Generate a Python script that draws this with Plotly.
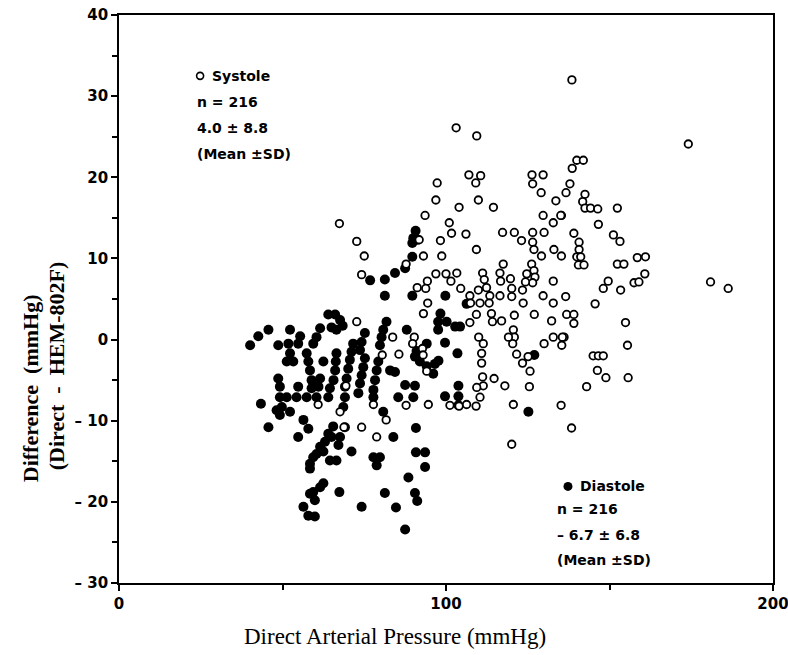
import plotly.graph_objects as go

# ---- Data ----
systole_x = [138.5, 174.1, 140.0, 142.0, 138.6, 137.9, 136.7, 142.5, 141.8, 142.5, 144.2, 146.4, 152.4, 135.3,
             146.6, 139.1, 151.2, 153.2, 140.7, 140.7, 135.3, 140.0, 141.2, 140.5, 142.2, 158.5, 161.0, 152.4,
             154.4, 149.6, 148.1, 153.4, 157.5, 159.0, 160.8, 180.9, 186.3, 136.6, 145.6, 136.9, 139.1, 139.1,
             154.9, 136.1, 135.4, 155.5, 145.0, 146.6, 148.1, 146.3, 148.9, 155.7, 143.0,
             103.1, 109.4,
             97.3, 107.0, 110.6, 109.1, 126.3, 129.7, 126.5, 96.9, 109.9, 104.0, 114.5, 129.1, 133.6, 93.6,
             101.0, 129.7, 135.1, 132.8, 101.7, 106.1, 117.3, 120.9, 123.1, 126.5, 126.5, 126.9, 130.0, 98.3,
             109.3, 133.0, 129.2, 93.1, 98.7, 87.8, 91.8, 117.5, 126.2, 126.9, 124.7, 127.2, 126.5, 124.3,
             96.9, 100.0, 103.3, 101.5, 111.2, 111.7, 116.5, 116.7, 119.7, 132.8, 94.3, 91.2, 93.8, 104.5,
             107.3, 109.9, 112.4, 113.4, 120.1, 120.1, 123.4, 129.7, 132.8, 116.5, 107.5, 110.4, 113.2, 94.4,
             123.6, 93.1, 109.3, 113.9, 120.9, 127.0, 114.2, 117.0, 132.3, 107.3, 120.6, 120.9, 90.3, 83.7,
             89.8, 110.0, 111.4, 132.8, 135.6, 130.0, 120.4,
             92.8, 93.0, 85.6, 94.1, 110.9, 110.9, 111.2, 111.4, 109.4, 110.4, 101.2, 104.0, 106.3, 109.2,
             87.8, 94.6, 114.7, 118.0, 119.1, 121.6, 123.4, 125.1, 125.7, 125.5, 120.6, 135.2, 138.4, 120.1,
             81.7,
             72.7, 80.5, 69.4, 60.9, 67.6, 77.8, 68.8, 74.2, 78.8,
             67.4, 72.7, 75.0, 74.2]
systole_y = [32.0, 24.1, 22.1, 22.1, 21.1, 19.2, 18.1, 17.9, 17.0, 16.2, 16.2, 16.1, 16.2, 15.3,
             14.2, 13.1, 12.9, 12.1, 12.0, 11.1, 10.3, 10.2, 10.2, 9.2, 9.2, 10.1, 10.2, 9.3,
             9.3, 7.2, 6.3, 6.1, 7.0, 7.1, 8.1, 7.1, 6.3, 5.3, 4.4, 3.1, 3.1, 2.0,
             2.1, 0.3, -0.7, -0.7, -2.0, -2.0, -2.0, -3.8, -4.7, -4.7, -5.8,
             26.1, 25.1,
             19.3, 20.3, 20.2, 19.3, 20.3, 20.3, 19.2, 17.2, 17.2, 16.3, 16.3, 18.1, 17.1, 15.3,
             14.4, 15.3, 15.3, 14.4, 13.1, 13.0, 13.2, 13.2, 12.2, 13.2, 12.0, 11.1, 13.2, 12.2,
             11.1, 11.1, 10.3, 10.3, 10.3, 9.3, 12.3, 9.3, 9.3, 8.5, 8.1, 7.7, 7.0, 7.1,
             8.1, 8.1, 8.2, 7.2, 8.2, 7.4, 8.2, 7.2, 7.5, 7.2, 7.2, 6.4, 6.3, 6.3,
             5.4, 6.1, 6.4, 5.4, 6.3, 5.3, 6.1, 5.4, 4.5, 5.4, 4.5, 4.5, 4.5, 4.5,
             4.5, 3.2, 3.1, 3.2, 3.0, 3.1, 2.2, 2.3, 2.3, 2.1, 1.2, 0.3, 0.3, 0.3,
             -0.5, 0.3, -0.5, 0.3, 0.3, -0.5, -0.5,
             -1.1, -1.9, -1.8, -3.9, -1.7, -2.9, -4.6, -5.7, -5.9, -7.1, -8.1, -8.2, -8.0, -8.2,
             -8.1, -8.0, -4.8, -5.7, 0.3, -1.8, -2.9, -2.1, -3.9, -5.8, -8.0, -8.1, -10.9, -12.9,
             -9.9,
             2.2, -1.9, -5.7, -8.0, -8.9, -8.0, -10.8, -10.8, -12.0,
             14.3, 12.1, 10.3, 8.0]

diastole_x = [90.7, 90.0, 89.7, 91.3, 89.7, 87.5, 84.4, 81.3, 81.3, 89.7, 99.8, 98.3, 97.6, 100.2,
              102.8, 104.3, 106.3, 88.0, 94.1, 99.7,
              91.0, 90.5, 92.0, 94.1, 96.1, 97.7, 96.6, 103.5, 97.6, 82.9, 84.4, 87.5, 90.5, 85.4,
              90.0, 99.7, 103.8, 103.8, 103.8, 127.0, 125.2, 80.8, 83.9, 90.8, 90.8, 93.6, 93.6, 88.5,
              81.3, 90.5, 91.2, 84.7, 87.5,
              76.8,
              64.0, 66.1, 67.6, 68.4, 66.5, 65.0,
              81.8, 80.8, 80.3, 79.8, 79.3, 78.8, 78.3, 77.8, 77.8,
              75.2, 74.2, 73.7, 75.2, 74.7, 74.2, 73.7, 73.2,
              71.6, 71.1, 70.6, 70.1, 69.6, 69.1, 69.1, 68.6,
              66.5, 66.3, 66.1, 65.6, 64.5, 64.0,
              61.5, 60.4, 59.4, 62.5, 61.5, 61.0, 59.4,
              57.4, 57.9, 58.4, 58.9, 58.9,
              52.3, 55.4, 54.8, 51.8, 48.7, 52.3, 51.3, 53.3,
              45.7, 42.6, 40.1,
              48.7, 49.2, 49.2, 49.8, 48.2, 49.2,
              51.3, 54.3, 57.4, 60.4, 54.8,
              43.4, 45.7, 52.3,
              56.4, 57.9, 54.8,
              65.5, 65.0, 67.6,
              64.0, 63.0, 61.5, 60.4, 59.4, 58.4, 58.4, 62.5, 64.5, 66.5, 67.1,
              69.1, 71.1,
              77.8, 79.8, 78.8,
              62.5, 61.5, 59.4, 59.9, 58.4,
              56.4, 57.9, 59.9,
              67.4, 74.2]
diastole_y = [13.4, 12.5, 11.9, 12.3, 10.2, 8.8, 8.2, 7.4, 5.4, 5.4, 5.4, 3.2, 2.2, 2.2,
              1.6, 1.6, 4.4, 1.2, -0.5, -0.4,
              -1.4, -2.1, -2.7, -3.3, -4.2, -2.6, -3.0, -1.7, 1.2, -3.8, -4.0, -5.6, -5.7, -7.1,
              -7.1, -7.0, -5.7, -7.0, -8.1, -1.9, -8.9, -8.9, -12.0, -10.9, -13.9, -13.9, -15.7, -17.0,
              -18.9, -18.9, -19.9, -20.7, -23.4,
              7.3,
              3.1, 3.1, 2.4, 1.7, 1.2, 1.5,
              2.2, 1.2, 0.3, -0.7, -2.7, -3.8, -5.0, -6.2, -7.1,
              0.8, -0.3, -1.3, -2.3, -3.4, -4.4, -5.4, -6.6,
              -0.5, -1.5, -2.5, -3.6, -4.8, -5.8, -7.1, -8.3,
              -1.7, -2.7, -3.8, -5.0, -6.0, -7.1,
              1.4, 0.3, -0.5, -2.7, -4.8, -5.8, -5.6,
              -1.7, -2.7, -3.8, -5.0, -6.0,
              1.2, 0.4, -0.5, -0.5, -0.7, -1.7, -2.7, -2.7,
              1.2, 0.4, -0.7,
              -4.8, -5.8, -7.1, -8.3, -8.7, -9.3,
              -7.1, -7.1, -7.1, -7.1, -5.8,
              -7.9, -10.8, -8.9,
              -9.9, -11.0, -12.0,
              -10.7, -12.0, -12.0,
              -11.6, -12.6, -13.2, -14.1, -14.5, -15.3, -15.9, -13.8, -14.9, -14.9, -13.0,
              -10.8, -13.8,
              -14.5, -14.5, -15.5,
              -17.7, -18.2, -18.8, -19.8, -19.0,
              -20.6, -21.7, -21.8,
              -18.8, -20.6]

x_ticks = [0, 100, 200]
x_minor = [50, 150]
y_ticks = [-30, -20, -10, 0, 10, 20, 30, 40]
y_ticklabels = ["– 30", "– 20", "– 10", "0", "10", "20", "30", "40"]

systole_text = ["Systole", "n = 216", "4.0 ± 8.8", "(Mean ±SD)"]
diastole_text = ["Diastole", "n = 216", "– 6.7 ± 6.8", "(Mean ±SD)"]

# ---- Figure ----
fig = go.Figure()
fig.add_trace(go.Scatter(x=diastole_x, y=diastole_y, mode="markers", name="Diastole",
                         marker=dict(symbol="circle", size=10, color="black", line=dict(width=0))))
fig.add_trace(go.Scatter(x=systole_x, y=systole_y, mode="markers", name="Systole",
                         marker=dict(symbol="circle", size=7.5, color="white",
                                     line=dict(color="black", width=1.8))))

tickfont = dict(family="DejaVu Sans, Liberation Sans, sans-serif", size=15, color="black", weight="bold")
txtfont = dict(family="DejaVu Sans, Liberation Sans, sans-serif", size=14, color="black", weight="bold")
serif = "Liberation Serif, Times New Roman, serif"

fig.update_layout(
    width=788, height=655, autosize=False,
    margin=dict(l=119, r=15, t=15, b=72),
    plot_bgcolor="white", paper_bgcolor="white",
    showlegend=False,
    xaxis=dict(range=[0, 200], tickvals=x_ticks, ticks="outside", ticklen=6, tickwidth=1.5,
               tickcolor="black", showline=True, linewidth=1.8, linecolor="black", mirror=True,
               showgrid=False, zeroline=False, tickfont=tickfont, automargin=False,
               ticklabeloverflow="allow",
               minor=dict(tickvals=x_minor, ticks="outside", ticklen=5, tickwidth=1.5,
                          tickcolor="black", showgrid=False)),
    yaxis=dict(range=[-30, 40], tickvals=y_ticks, ticktext=y_ticklabels, ticks="outside",
               ticklen=6, tickwidth=1.5, tickcolor="black", showline=True, linewidth=1.8,
               linecolor="black", mirror=True, showgrid=False, zeroline=False, tickfont=tickfont,
               automargin=False, ticklabeloverflow="allow",
               minor=dict(dtick=5, ticks="outside", ticklen=5, tickwidth=1.5,
                          tickcolor="black", showgrid=False)),
)

# axis titles
fig.add_annotation(text="Direct Arterial Pressure (mmHg)", xref="paper", yref="paper",
                   x=0.422, y=-0.095, xanchor="center", yanchor="middle", showarrow=False,
                   font=dict(family=serif, size=23, color="black"))
fig.add_annotation(text="Difference  (mmHg)", xref="paper", yref="paper",
                   x=-0.136, y=0.343, xanchor="center", yanchor="middle", showarrow=False,
                   textangle=-90,
                   font=dict(family=serif, size=22, color="black", weight="bold"))
fig.add_annotation(text="(Direct  -  HEM-802F)", xref="paper", yref="paper",
                   x=-0.096, y=0.382, xanchor="center", yanchor="middle", showarrow=False,
                   textangle=-90,
                   font=dict(family=serif, size=22, color="black", weight="bold"))

# in-plot legends
sys_pos = [(27.8, 32.5), (23.2, 29.3), (23.2, 26.1), (23.2, 22.9)]
for t, (xx, yy) in zip(systole_text, sys_pos):
    fig.add_annotation(text=t, x=xx, y=yy, xanchor="left", yanchor="middle", showarrow=False,
                       font=txtfont)
dia_pos = [(140.4, -18.1), (133.3, -20.9), (133.3, -24.1), (133.3, -27.2)]
for t, (xx, yy) in zip(diastole_text, dia_pos):
    fig.add_annotation(text=t, x=xx, y=yy, xanchor="left", yanchor="middle", showarrow=False,
                       font=txtfont)

# legend symbols
fig.add_shape(type="circle", xref="x", yref="y", xsizemode="pixel", ysizemode="pixel",
              xanchor=24.8, yanchor=32.5, x0=-3.5, x1=3.5, y0=-3.5, y1=3.5,
              line=dict(color="black", width=1.6), fillcolor="white")
fig.add_shape(type="circle", xref="x", yref="y", xsizemode="pixel", ysizemode="pixel",
              xanchor=137.3, yanchor=-18.1, x0=-4.5, x1=4.5, y0=-4.5, y1=4.5,
              line=dict(color="black", width=0), fillcolor="black")

# remove the browser's default 8px body margin so the figure fills the window exactly
fig.write_html("out.html", config={"displayModeBar": False},
               post_script="document.body.style.margin='0';document.body.style.overflow='hidden';")
